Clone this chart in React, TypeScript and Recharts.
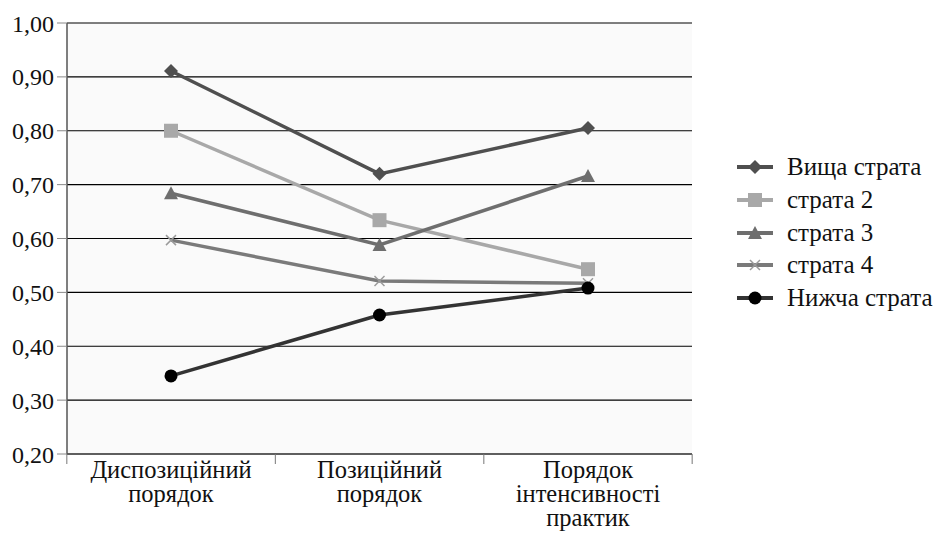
import React from "react";
import { LineChart, Line, XAxis, YAxis, CartesianGrid } from "recharts";

const categories = ["Диспозиційний порядок", "Позиційний порядок", "Порядок інтенсивності практик"];
const categoryLines = [["Диспозиційний", "порядок"], ["Позиційний", "порядок"], ["Порядок", "інтенсивності", "практик"]];
const upper = [0.911, 0.72, 0.805];
const strata2 = [0.8, 0.634, 0.543];
const strata3 = [0.684, 0.588, 0.716];
const strata4 = [0.597, 0.521, 0.517];
const lower = [0.345, 0.458, 0.508];
const yTicks = [0.2, 0.3, 0.4, 0.5, 0.6, 0.7, 0.8, 0.9, 1.0];

const data = categories.map((c, i) => ({
	name: c,
	upper: upper[i],
	s2: strata2[i],
	s3: strata3[i],
	s4: strata4[i],
	lower: lower[i],
}));

const FONT = "'Liberation Serif', serif";

const series = [
	{ key: "upper", label: "Вища страта", color: "#4f4f4f", shape: "diamond", mark: "#4f4f4f" },
	{ key: "s2", label: "страта 2", color: "#a8a8a8", shape: "square", mark: "#a8a8a8" },
	{ key: "s3", label: "страта 3", color: "#6e6e6e", shape: "triangle", mark: "#6e6e6e" },
	{ key: "s4", label: "страта 4", color: "#7a7a7a", shape: "cross", mark: "#9a9a9a" },
	{ key: "lower", label: "Нижча страта", color: "#333333", shape: "circle", mark: "#000000" },
];

const Marker = ({ shape, x, y, color }: { shape: string; x: number; y: number; color: string }) => {
	if (shape === "diamond") {
		return <polygon points={`${x},${y - 7} ${x + 7},${y} ${x},${y + 7} ${x - 7},${y}`} fill={color} />;
	}
	if (shape === "square") {
		return <rect x={x - 7} y={y - 7} width={14} height={14} fill={color} />;
	}
	if (shape === "triangle") {
		return <polygon points={`${x},${y - 7} ${x + 7},${y + 6} ${x - 7},${y + 6}`} fill={color} />;
	}
	if (shape === "cross") {
		return (
			<g stroke={color} strokeWidth={1.5}>
				<line x1={x - 5} y1={y - 5} x2={x + 5} y2={y + 5} />
				<line x1={x - 5} y1={y + 5} x2={x + 5} y2={y - 5} />
			</g>
		);
	}
	return <circle cx={x} cy={y} r={6.5} fill={color} />;
};

const makeDot = (shape: string, color: string) => (props: any) => {
	const { cx, cy, index } = props;
	if (cx == null || cy == null) return <g key={index} />;
	return <Marker key={index} shape={shape} x={cx} y={cy} color={color} />;
};

// category labels wrapped on several lines, plus tick marks on the band edges
const XTick = (props: any) => {
	const { x, y, payload } = props;
	const band = 625 / 3;
	const lines = categoryLines[payload.index] || [payload.value];
	return (
		<g>
			<line x1={x - band / 2} y1={y - 8} x2={x - band / 2} y2={y + 2} stroke="#777" />
			{payload.index === categories.length - 1 && (
				<line x1={x + band / 2} y1={y - 8} x2={x + band / 2} y2={y + 2} stroke="#777" />
			)}
			{lines.map((l: string, i: number) => (
				<text
					key={i}
					x={x}
					y={y + 16 + i * 24}
					textAnchor="middle"
					style={{ fontFamily: FONT }}
					fontSize={24.5}
					fill="#111"
				>
					{l}
				</text>
			))}
		</g>
	);
};

const LegendBox = () => (
	<div style={{ position: "absolute", left: 735, top: 151, fontSize: 25, color: "#111", fontFamily: FONT }}>
		{series.map((s) => (
			<div key={s.key} style={{ display: "flex", alignItems: "center", height: 32.7, whiteSpace: "nowrap" }}>
				<svg width={52} height={20}>
					<line x1={2} y1={10} x2={38} y2={10} stroke={s.color} strokeWidth={4} />
					<Marker shape={s.shape} x={20} y={10} color={s.mark} />
				</svg>
				<span>{s.label}</span>
			</div>
		))}
	</div>
);

export default function App() {
	return (
		<div style={{ position: "absolute", left: 0, top: 0, width: 937, height: 539, background: "#fff" }}>
			<LineChart width={937} height={539} data={data} margin={{ top: 23, right: 245, left: 7, bottom: 0 }}>
				<CartesianGrid vertical={false} stroke="#000" strokeWidth={1.2} fill="#fafafa" />
				<XAxis
					dataKey="name"
					interval={0}
					padding={{ left: 104, right: 104 }}
					axisLine={{ stroke: "#555", strokeWidth: 1.5 }}
					tickLine={false}
					tick={<XTick />}
					height={85}
				/>
				<YAxis
					type="number"
					domain={[0.2, 1.0]}
					ticks={yTicks}
					interval={0}
					width={60}
					axisLine={{ stroke: "#555", strokeWidth: 1.5 }}
					tickLine={{ stroke: "#888" }}
					tickSize={10}
					tickMargin={3}
					tickFormatter={(v: number) => v.toFixed(2).replace(".", ",")}
					tick={{ style: { fontFamily: FONT }, fontSize: 24, fill: "#111" }}
				/>
				<YAxis yAxisId="right" orientation="right" axisLine={{ stroke: "#888", strokeWidth: 1.5 }} tick={false} tickLine={false} width={0} />
				{series.map((s) => (
					<Line
						key={s.key}
						dataKey={s.key}
						stroke={s.color}
						strokeWidth={3.5}
						dot={makeDot(s.shape, s.mark)}
						activeDot={false}
						isAnimationActive={false}
					/>
				))}
			</LineChart>
			<LegendBox />
		</div>
	);
}
